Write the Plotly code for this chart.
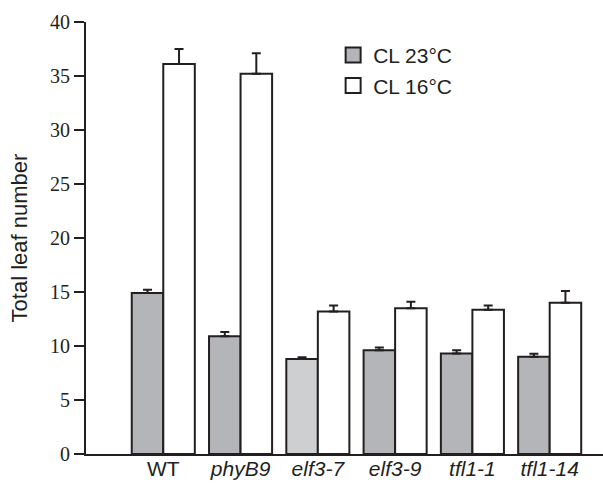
import plotly.graph_objects as go

categories = ["WT", "phyB9", "elf3-7", "elf3-9", "tfl1-1", "tfl1-14"]
tick_labels = ["WT", "<i>phyB9</i>", "<i>elf3-7</i>", "<i>elf3-9</i>", "<i>tfl1-1</i>", "<i>tfl1-14</i>"]
cl23_values = [14.9, 10.9, 8.8, 9.6, 9.3, 9.0]
cl23_errors = [0.3, 0.4, 0.15, 0.25, 0.3, 0.28]
cl16_values = [36.1, 35.2, 13.2, 13.5, 13.35, 14.0]
cl16_errors = [1.4, 1.9, 0.55, 0.6, 0.4, 1.1]
cl23_colors = ["#b4b5b8", "#b4b5b8", "#cdcfd0", "#b4b5b8", "#b4b5b8", "#b4b5b8"]
series_names = ["CL 23°C", "CL 16°C"]
legend_colors = ["#b4b5b8", "white"]

edge = "#231f20"

fig = go.Figure()
fig.add_trace(go.Bar(
    name=series_names[0], x=categories, y=cl23_values, showlegend=False,
    marker=dict(color=cl23_colors, line=dict(color=edge, width=2)),
    error_y=dict(type="data", array=cl23_errors, arrayminus=[0]*6, symmetric=False,
                 color=edge, thickness=2, width=4.5),
))
fig.add_trace(go.Bar(
    name=series_names[1], x=categories, y=cl16_values, showlegend=False,
    marker=dict(color="white", line=dict(color=edge, width=2)),
    error_y=dict(type="data", array=cl16_errors, arrayminus=[0]*6, symmetric=False,
                 color=edge, thickness=2, width=4.5),
))
for name, col in zip(series_names, legend_colors):
    fig.add_trace(go.Scatter(
        x=[None], y=[None], mode="markers", name=name,
        marker=dict(symbol="square", size=15, color=col, line=dict(color=edge, width=2)),
    ))

fig.update_layout(
    width=603, height=483,
    margin=dict(l=86, r=0, t=22, b=29),
    plot_bgcolor="white", paper_bgcolor="white",
    barmode="group", bargap=0.184, bargroupgap=0,
    showlegend=True,
    legend=dict(x=0.478, y=0.97, xanchor="left", yanchor="top", itemsizing="trace",
                font=dict(family="Liberation Sans, Arial", size=21, color=edge),
                bgcolor="rgba(0,0,0,0)", tracegroupgap=0),
    xaxis=dict(
        range=[-1.0, 5.69], tickmode="array", tickvals=categories, ticktext=tick_labels,
        showline=True, linecolor=edge, linewidth=2, ticks="", ticklen=0, automargin=False,
        ticklabelstandoff=-5,
        tickfont=dict(family="Liberation Sans, Arial", size=21, color=edge),
        showgrid=False, zeroline=False,
    ),
    yaxis=dict(
        range=[0, 40], tickvals=[0, 5, 10, 15, 20, 25, 30, 35, 40], automargin=False,
        showline=True, linecolor=edge, linewidth=2,
        ticks="outside", ticklen=10, tickwidth=2, tickcolor=edge,
        tickfont=dict(family="Liberation Serif, Times New Roman", size=20, color=edge),
        title=dict(text="Total leaf number", font=dict(family="Liberation Sans, Arial", size=22, color=edge),
                   standoff=16),
        showgrid=False, zeroline=False,
    ),
)
fig.write_html("out.html")
